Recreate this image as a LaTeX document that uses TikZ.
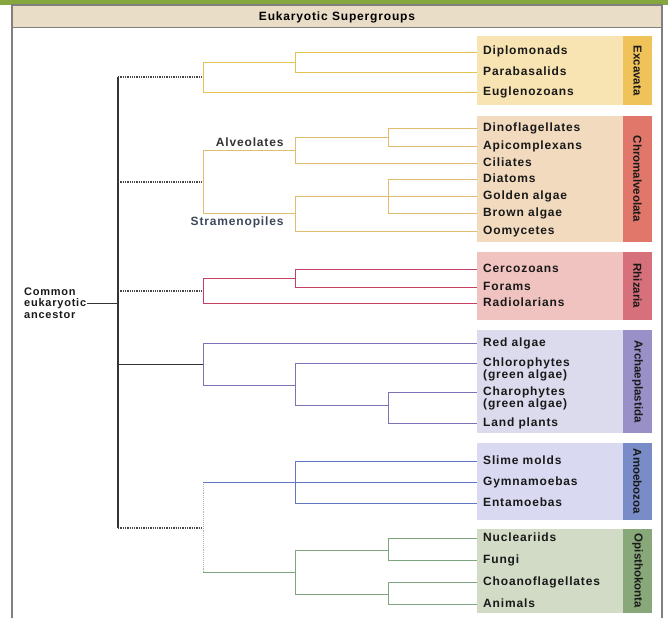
\documentclass[tikz,border=0pt]{standalone}
\usepackage{fontspec}
\setmainfont{Liberation Sans}
\newfontfamily\spacedfont{Liberation Sans}[LetterSpace=7]
\usetikzlibrary{positioning}
\definecolor{FrameGreen}{RGB}{134,166,62}
\definecolor{HeadTan}{RGB}{233,221,200}
\definecolor{ExcLight}{RGB}{248,228,178}
\definecolor{ExcDark}{RGB}{240,194,90}
\definecolor{ExcLine}{RGB}{228,194,80}
\definecolor{ChrLight}{RGB}{242,218,190}
\definecolor{ChrDark}{RGB}{224,119,106}
\definecolor{ChrLine}{RGB}{224,188,110}
\definecolor{RhiLight}{RGB}{240,194,192}
\definecolor{RhiDark}{RGB}{214,112,122}
\definecolor{RhiLine}{RGB}{196,64,98}
\definecolor{ArcLight}{RGB}{220,219,238}
\definecolor{ArcDark}{RGB}{154,144,200}
\definecolor{ArcLine}{RGB}{128,112,184}
\definecolor{AmoLight}{RGB}{217,217,241}
\definecolor{AmoDark}{RGB}{122,140,200}
\definecolor{AmoLine}{RGB}{96,120,196}
\definecolor{OpiLight}{RGB}{210,219,198}
\definecolor{OpiDark}{RGB}{136,168,122}
\definecolor{OpiLine}{RGB}{126,166,126}
\definecolor{TrunkGray}{RGB}{51,51,51}
\definecolor{CladeSlate}{RGB}{60,72,90}

\begin{document}
\begin{tikzpicture}[x=1pt, y=-1pt,
	taxon/.style={anchor=west, inner xsep=6pt, inner ysep=0.5pt, text height=8.5pt, text depth=2.5pt,
		font=\spacedfont\bfseries\fontsize{12}{13}\selectfont, text=black!90},
	group/.style={rotate=-90, font=\bfseries\fontsize{11.5}{13}\selectfont, text=black!90},
	clade/.style={font=\spacedfont\bfseries\fontsize{12}{13}\selectfont},
	branch/.style={line width=0.8pt},
	stem/.style={line width=1.3pt, TrunkGray!90, densely dotted}]
	\useasboundingbox (0,0) rectangle (668,618);
	
	% frame
	\fill[FrameGreen] (0,0) rectangle (668,5);
	\fill[HeadTan] (12,5) rectangle (662,28);
	\draw[gray, line width=1.2pt] (12,618) -- (12,5) -- (662,5) -- (662,618);
	\draw[gray, line width=1pt] (12,28) -- (662,28);
	\node[clade] (head) at (337,17) {Eukaryotic Supergroups};
	
	% supergroup boxes
	\fill[ExcLight] (477,36) rectangle (623,105);
	\fill[ExcDark] (623,36) rectangle (652,105);
	\node[group] (excname) at (637.5,70.5) {Excavata};
	\fill[ChrLight] (477,116) rectangle (623,242);
	\fill[ChrDark] (623,116) rectangle (652,242);
	\node[group] (chrname) at (637.5,179) {Chromalveolata};
	\fill[RhiLight] (477,252) rectangle (623,320);
	\fill[RhiDark] (623,252) rectangle (652,320);
	\node[group] (rhiname) at (637.5,286) {Rhizaria};
	\fill[ArcLight] (477,330) rectangle (623,433);
	\fill[ArcDark] (623,330) rectangle (652,433);
	\node[group] (arcname) at (637.5,381.5) {Archaeplastida};
	\fill[AmoLight] (477,443) rectangle (623,520);
	\fill[AmoDark] (623,443) rectangle (652,520);
	\node[group] (amoname) at (637.5,481.5) {Amoebozoa};
	\fill[OpiLight] (477,529) rectangle (623,613);
	\fill[OpiDark] (623,529) rectangle (652,613);
	\node[group] (opiname) at (637.5,571) {Opisthokonta};
	
	% taxa
	\node[taxon] (dip) at (477,52) {Diplomonads};
	\node[taxon] (par) at (477,72) {Parabasalids};
	\node[taxon] (eug) at (477,92) {Euglenozoans};
	\node[taxon] (din) at (477,128) {Dinoflagellates};
	\node[taxon] (api) at (477,146) {Apicomplexans};
	\node[taxon] (cil) at (477,163) {Ciliates};
	\node[taxon] (dia) at (477,179) {Diatoms};
	\node[taxon] (gol) at (477,196) {Golden algae};
	\node[taxon] (bro) at (477,213) {Brown algae};
	\node[taxon] (oom) at (477,231) {Oomycetes};
	\node[taxon] (cer) at (477,269) {Cercozoans};
	\node[taxon] (fora) at (477,287) {Forams};
	\node[taxon] (rad) at (477,303) {Radiolarians};
	\node[taxon] (red) at (477,343) {Red algae};
	\node[taxon] (chl) at (477,363) {Chlorophytes};
	\node[taxon, below right=0pt and 0pt of chl.south west] (chlg) {(green algae)};
	\node[taxon] (cha) at (477,392) {Charophytes};
	\node[taxon, below right=0pt and 0pt of cha.south west] (chag) {(green algae)};
	\node[taxon] (lan) at (477,423) {Land plants};
	\node[taxon] (sli) at (477,461) {Slime molds};
	\node[taxon] (gym) at (477,482) {Gymnamoebas};
	\node[taxon] (ent) at (477,503) {Entamoebas};
	\node[taxon] (nuc) at (477,538) {Nucleariids};
	\node[taxon] (fun) at (477,560) {Fungi};
	\node[taxon] (cho) at (477,582) {Choanoflagellates};
	\node[taxon] (ani) at (477,604) {Animals};
	
	% trunk and ancestor
	\coordinate (trunk-top) at (118,77);
	\coordinate (trunk-bot) at (118,528);
	\draw[line width=1.5pt, TrunkGray] (trunk-top) -- (trunk-bot);
	\node[clade, anchor=west, align=left, inner sep=1pt, text=black!90, font=\spacedfont\bfseries\fontsize{11}{11.5}\selectfont] (anc) at (23,303) {Common\\eukaryotic\\ancestor};
	\draw[line width=1pt, TrunkGray] (anc.east) -- (anc -| trunk-top);
	
	% Excavata
	\coordinate (exc) at (203,77);
	\coordinate (exc1) at (295,62);
	\draw[stem] (trunk-top) -- (exc);
	\draw[branch, ExcLine] (exc) |- (exc1) (exc1) |- (dip.west) (exc1) |- (par.west) (exc) |- (eug.west);
	
	% Chromalveolata
	\coordinate (chr) at (203,182);
	\coordinate (alv) at (295,150);
	\coordinate (alv1) at (388,137);
	\coordinate (str) at (295,213.5);
	\coordinate (str1) at (388,196);
	\draw[stem] (chr -| trunk-top) -- (chr);
	\draw[branch, ChrLine] (chr) |- (alv) (chr) |- (str)
		(alv) |- (alv1) (alv1) |- (din.west) (alv1) |- (api.west) (alv) |- (cil.west)
		(str) |- (str1) (str1) |- (dia.west) (str1) -- (gol.west) (str1) |- (bro.west) (str) |- (oom.west);
	\node[clade, text=black!80, above left=0pt and 8pt of alv] (alvname) {Alveolates};
	\node[clade, text=CladeSlate, below left=0pt and 8pt of str] (strname) {Stramenopiles};
	
	% Rhizaria
	\coordinate (rhi) at (203,291);
	\coordinate (rhi1) at (295,278);
	\draw[stem] (rhi -| trunk-top) -- (rhi);
	\draw[branch, RhiLine] (rhi) |- (rhi1) (rhi1) |- (cer.west) (rhi1) |- (fora.west) (rhi) |- (rad.west);
	
	% Archaeplastida
	\coordinate (arc) at (203,364);
	\coordinate (arc1) at (295,385);
	\coordinate (arc2) at (388,405);
	\draw[line width=1pt, TrunkGray] (arc -| trunk-top) -- (arc);
	\draw[branch, ArcLine] (arc) |- (red.west) (arc) |- (arc1) (arc1) |- (chl.west)
		(arc1) |- (arc2) (arc2) |- (cha.west) (arc2) |- (lan.west);
	
	% Amoebozoa + Opisthokonta
	\coordinate (uni) at (203,528);
	\coordinate (amo) at (295,482);
	\coordinate (opi) at (295,572);
	\coordinate (opi1) at (388,550);
	\coordinate (opi2) at (388,594);
	\draw[stem] (trunk-bot) -- (uni);
	\draw[densely dotted, line width=0.9pt, gray!60] (uni |- amo) -- (uni |- opi);
	\draw[branch, AmoLine] (uni |- amo) -- (amo) (amo) |- (sli.west) (amo) -- (gym.west) (amo) |- (ent.west);
	\draw[branch, OpiLine] (uni |- opi) -- (opi) (opi) |- (opi1) (opi1) |- (nuc.west) (opi1) |- (fun.west)
		(opi) |- (opi2) (opi2) |- (cho.west) (opi2) |- (ani.west);
\end{tikzpicture}
\end{document}
